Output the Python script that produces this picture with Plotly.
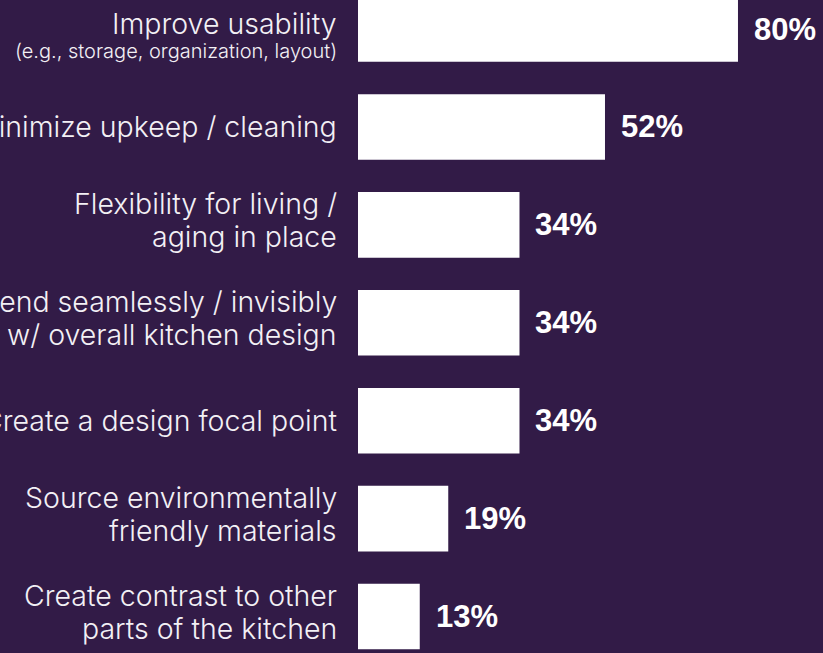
import plotly.graph_objects as go

# Reasons for the kitchen choice, share of respondents (%)
categories = [
    "Improve usability",
    "Minimize upkeep / cleaning",
    "Flexibility for living /<br>aging in place",
    "Blend seamlessly / invisibly<br>w/ overall kitchen design",
    "Create a design focal point",
    "Source environmentally<br>friendly materials",
    "Create contrast to other<br>parts of the kitchen",
]
subtitles = ["(e.g., storage, organization, layout)", "", "", "", "", "", ""]
values = [80, 52, 34, 34, 34, 19, 13]
value_labels = [f"{v}%" for v in values]

BG = "#321b47"
TEXT = "#f3f0f5"
LABEL_FONT = "Inter, DejaVu Sans, Liberation Sans, Arial, sans-serif"
VALUE_FONT = "Liberation Sans, Arial, sans-serif"
LABEL_SIZE = 28.5
SUB_SIZE = 20

fig = go.Figure(
    go.Bar(
        x=values,
        y=categories,
        orientation="h",
        width=0.67,
        marker=dict(color="white", line=dict(width=0)),
        hoverinfo="skip",
    )
)


def add_label_line(cat, text, size, yshift):
    fig.add_annotation(
        x=0, y=cat, xref="x", yref="y", text=text, showarrow=False,
        xanchor="right", yanchor="middle", align="right",
        xshift=-19, yshift=yshift,
        font=dict(family=LABEL_FONT, size=size, color=TEXT, weight=300),
    )


# Category labels, right-aligned just left of the bars (one annotation per line)
for cat, sub in zip(categories, subtitles):
    lines = cat.split("<br>")
    if sub:
        add_label_line(cat, lines[0], LABEL_SIZE, 6)
        add_label_line(cat, sub, SUB_SIZE, -22)
    elif len(lines) == 2:
        add_label_line(cat, lines[0], LABEL_SIZE, 21)
        add_label_line(cat, lines[1], LABEL_SIZE, -12)
    else:
        add_label_line(cat, lines[0], LABEL_SIZE, 0)

# Bold percentage next to the end of each bar
for cat, v, lab in zip(categories, values, value_labels):
    fig.add_annotation(
        x=v, y=cat, xref="x", yref="y",
        text=f"<b>{lab}</b>", showarrow=False,
        xanchor="left", yanchor="middle", xshift=14,
        font=dict(family=VALUE_FONT, size=31, color="white"),
    )

fig.update_layout(
    width=823, height=653,
    margin=dict(l=358, r=0, t=0, b=0, autoexpand=False),
    paper_bgcolor=BG, plot_bgcolor=BG,
    showlegend=False,
    xaxis=dict(range=[0, 97.9], visible=False, fixedrange=True),
    yaxis=dict(
        range=[6.373, -0.297],
        showgrid=False, zeroline=False, showline=False,
        showticklabels=False, ticks="",
        automargin=False, fixedrange=True,
    ),
)

fig.write_html("out.html", config={"displayModeBar": False})
